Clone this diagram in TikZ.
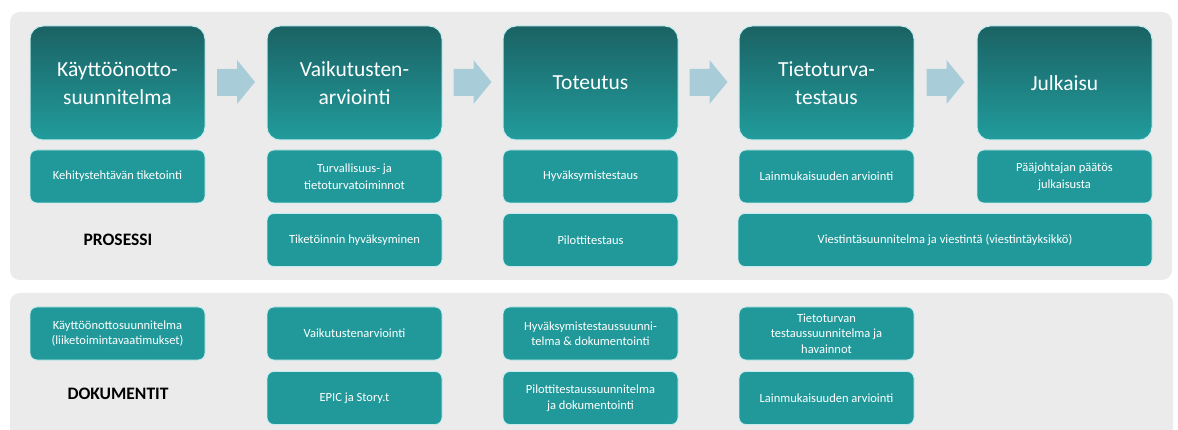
\documentclass[tikz,border=0pt]{standalone}
\usepackage{fontspec}
\setmainfont{Carlito}
\usetikzlibrary{calc}
\definecolor{panelc}{HTML}{EBEBEB}
\definecolor{tealc}{HTML}{21999A}
\definecolor{tealtop}{HTML}{1B6264}
\definecolor{tealbot}{HTML}{219C9C}
\definecolor{edgec}{HTML}{C4ECEE}
\definecolor{arrowc}{HTML}{A9CDD8}
\tikzset{
  panel/.style={fill=panelc, rounded corners=10pt},
  bigbox/.style={top color=tealtop, bottom color=tealbot, draw=edgec, line width=1pt,
    rounded corners=13pt, text=white, align=center, inner sep=0pt,
    minimum width=175pt, minimum height=114pt,
    font=\fontsize{21.5}{28}\selectfont},
  smallbox/.style={fill=tealc, draw=edgec, line width=0.8pt, rounded corners=7pt,
    text=white, align=center, inner sep=0pt,
    minimum width=175pt, minimum height=53pt,
    font=\fontsize{12.5}{17}\selectfont},
  docbox/.style={smallbox, font=\fontsize{12.5}{15.5}\selectfont},
  title/.style={font=\fontsize{17.5}{19}\selectfont\bfseries, text=black},
  blockarrow/.style={fill=arrowc}
}
\begin{document}
\begin{tikzpicture}[x=1pt,y=-1pt]
\useasboundingbox (0,0) rectangle (1178,430);
\fill[white] (0,0) rectangle (1178,430);
% panels
\path[panel] (10,12) rectangle (1172,280);
\path[panel] (10,293) rectangle (1173,440);

% big boxes
\node[bigbox] (b1) at (117.5,83) {Käyttöönotto-\\suunnitelma};
\node[bigbox] (b2) at (354.5,83) {Vaikutusten-\\arviointi};
\node[bigbox] (b3) at (590.5,83) {Toteutus};
\node[bigbox] (b4) at (826.5,83) {Tietoturva-\\testaus};
\node[bigbox] (b5) at (1064.5,83) {Julkaisu};

% block arrows between phases
\foreach \a/\b in {b1/b2,b2/b3,b3/b4,b4/b5}{
  \path ($(\a.east)!0.5!(\b.west)$) coordinate (m);
  \fill[blockarrow] ([shift={(-19,-14)}]m) -- ([shift={(1,-14)}]m) -- ([shift={(1,-23)}]m)
    -- ([shift={(19,-1)}]m) -- ([shift={(1,21)}]m) -- ([shift={(1,13)}]m)
    -- ([shift={(-19,13)}]m) -- cycle;
}

% process row 1
\node[smallbox] (p11) at (117.5,176.5) {Kehitystehtävän tiketointi};
\node[smallbox] (p21) at (354.5,176.5) {Turvallisuus- ja\\tietoturvatoiminnot};
\node[smallbox] (p31) at (590.5,176.5) {Hyväksymistestaus};
\node[smallbox] (p41) at (826.5,176.5) {Lainmukaisuuden arviointi};
\node[smallbox] (p51) at (1064.5,176.5) {Pääjohtajan päätös\\julkaisusta};
% process row 2
\node[title] (prosessi) at (118,240) {PROSESSI};
\node[smallbox] (p22) at (354.5,240) {Tiketöinnin hyväksyminen};
\node[smallbox] (p32) at (590.5,240) {Pilottitestaus};
\node[smallbox, minimum width=414pt] (p45) at (945,240) {Viestintäsuunnitelma ja viestintä (viestintäyksikkö)};

% documents
\node[docbox] (d11) at (117.5,333.5) {Käyttöönottosuunnitelma\\(liiketoimintavaatimukset)};
\node[title] (dokumentit) at (118,394) {DOKUMENTIT};
\node[docbox] (d21) at (354.5,333.5) {Vaikutustenarviointi};
\node[docbox] (d22) at (354.5,398) {EPIC ja Story.t};
\node[docbox] (d31) at (590.5,333.5) {Hyväksymistestaussuunni-\\telma \& dokumentointi};
\node[docbox] (d32) at (590.5,398) {Pilottitestaussuunnitelma\\ja dokumentointi};
\node[docbox] (d41) at (826.5,333.5) {Tietoturvan\\testaussuunnitelma ja\\havainnot};
\node[docbox] (d42) at (826.5,398) {Lainmukaisuuden arviointi};
\end{tikzpicture}
\end{document}
